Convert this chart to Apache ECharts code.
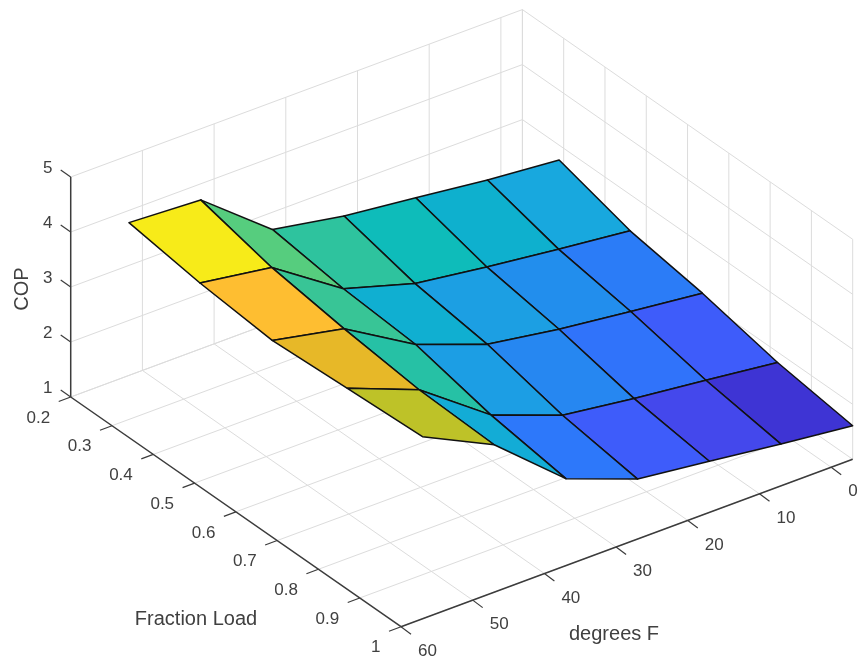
<!DOCTYPE html>
<html>
<head>
<meta charset="utf-8">
<style>html,body{margin:0;padding:0;background:#fff}#main{width:865px;height:661px}</style>
<script src="https://cdn.jsdelivr.net/npm/echarts@6/dist/echarts.min.js"></script>
</head>
<body>
<div id="main"></div>
<script>
// ---- data ----
var degrees = [-3, 7, 17, 27, 37, 47, 57];
var loads = [0.289, 0.461, 0.636, 0.818, 1];
var copLoad1 = [2.73, 2.85, 3.01, 3.16, 3.40, 4.42, 4.49];
var copLoad2 = [2.34, 2.49, 2.65, 2.83, 3.22, 4.09, 4.29];
var copLoad3 = [2.12, 2.27, 2.43, 2.64, 3.12, 3.89, 4.16];
var copLoad4 = [1.81, 1.97, 2.12, 2.30, 2.79, 3.73, 4.24];
var copLoad5 = [1.61, 1.76, 1.93, 2.09, 2.58, 3.68, 4.31];
var degreeTicks = [0, 10, 20, 30, 40, 50, 60];
var loadTicks = [0.2, 0.3, 0.4, 0.5, 0.6, 0.7, 0.8, 0.9, 1];
var copTicks = [1, 2, 3, 4, 5];
var loadTickLabels = ['0.2', '0.3', '0.4', '0.5', '0.6', '0.7', '0.8', '0.9', '1'];
var degreesName = 'degrees F';
var loadName = 'Fraction Load';
var copName = 'COP';

// ---- parula-like colour map ----
var cmapStops = [0, 0.07, 0.125, 0.177, 0.24, 0.3, 0.39, 0.43, 0.486, 0.538, 0.625, 0.736, 0.79, 0.865, 1];
var cmapColors = [
  [62, 38, 168], [62, 52, 212], [68, 72, 236], [62, 92, 250], [45, 120, 250], [35, 140, 238], [24, 168, 222],
  [14, 176, 206], [14, 188, 186], [46, 195, 158], [88, 205, 125], [190, 194, 40],
  [230, 184, 40], [255, 190, 50], [245, 245, 20]
];

var copRows = [copLoad1, copLoad2, copLoad3, copLoad4, copLoad5];
var allCop = copRows.reduce(function (a, r) { return a.concat(r); }, []);
var copMin = Math.min.apply(null, allCop), copMax = Math.max.apply(null, allCop);
var lm = echarts.number.linearMap;

function colorOf(v) {
  var t = lm(v, [copMin, copMax], [0, 1], true), i = 0;
  while (i < cmapStops.length - 2 && t > cmapStops[i + 1]) i++;
  var f = (t - cmapStops[i]) / (cmapStops[i + 1] - cmapStops[i]);
  var a = cmapColors[i], b = cmapColors[i + 1];
  return 'rgb(' + [0, 1, 2].map(function (k) { return Math.round(a[k] + (b[k] - a[k]) * f); }).join(',') + ')';
}

// ---- 3D box → screen scales ----
var origin = [401, 626.7];
var degMax = 60, degMin = -3, loadMin = 0.2, loadMax = 1, copLo = 1, copHi = 5;
var degRange = [degMax, degMin], loadRange = [loadMax, loadMin], copRange = [copLo, copHi];
function project(deg, load, cop) {
  return [
    origin[0] + lm(deg, degRange, [0, 451.7]) + lm(load, loadRange, [0, -330.3]),
    origin[1] + lm(deg, degRange, [0, -167.4]) + lm(load, loadRange, [0, -229.7]) + lm(cop, copRange, [0, -220])
  ];
}

var GRID = '#dcdcdc', AXIS = '#3c3c3c', TEXT = '#404040', FONT = '"Liberation Sans", Arial, sans-serif';
var LABEL_SIZE = 17, NAME_SIZE = 20;

function seg(a, b, color, w) {
  return { type: 'line', shape: { x1: a[0], y1: a[1], x2: b[0], y2: b[1] }, style: { stroke: color, lineWidth: w, fill: null } };
}
function txt(s, x, y, align, size) {
  return { type: 'text', x: x, y: y, style: { text: s, x: 0, y: 0, fill: TEXT, fontSize: size, fontFamily: FONT, align: align, verticalAlign: 'middle' } };
}

// grid lines on the floor and the two back walls
var gridItems = [];
degreeTicks.forEach(function (d) {
  gridItems.push([d, loadMax, copLo, d, loadMin, copLo]);
  gridItems.push([d, loadMin, copLo, d, loadMin, copHi]);
});
loadTicks.forEach(function (l) {
  gridItems.push([degMax, l, copLo, degMin, l, copLo]);
  gridItems.push([degMin, l, copLo, degMin, l, copHi]);
});
copTicks.forEach(function (c) {
  gridItems.push([degMax, loadMin, c, degMin, loadMin, c]);
  gridItems.push([degMin, loadMin, c, degMin, loadMax, c]);
});
gridItems.push([degMin, loadMin, copLo, degMin, loadMin, copHi]);

// surface cells, far to near
var cells = [];
for (var r = 0; r < loads.length - 1; r++) {
  for (var c = 0; c < degrees.length - 1; c++) cells.push([r, c]);
}

var option = {
  backgroundColor: '#ffffff',
  animation: false,
  series: [
    {
      type: 'custom', coordinateSystem: 'none', silent: true, z: 1, data: gridItems,
      renderItem: function (p, api) {
        var g = gridItems[p.dataIndex];
        return seg(project(g[0], g[1], g[2]), project(g[3], g[4], g[5]), GRID, 1);
      }
    },
    {
      type: 'custom', coordinateSystem: 'none', silent: true, z: 2, data: [0],
      renderItem: function () {
        var ch = [];
        ch.push(seg(project(degMax, loadMin, copLo), project(degMax, loadMin, copHi), AXIS, 1.5));
        ch.push(seg(project(degMax, loadMin, copLo), project(degMax, loadMax, copLo), AXIS, 1.5));
        ch.push(seg(project(degMax, loadMax, copLo), project(degMin, loadMax, copLo), AXIS, 1.5));
        copTicks.forEach(function (v) {
          var q = project(degMax, loadMin, v);
          ch.push(seg(q, [q[0] - 10, q[1] - 7], AXIS, 1.2));
          ch.push(txt(String(v), q[0] - 23, q[1] - 9, 'center', LABEL_SIZE));
        });
        loadTicks.forEach(function (v, i) {
          var q = project(degMax, v, copLo);
          ch.push(seg(q, [q[0] - 12, q[1] + 4.5], AXIS, 1.2));
          ch.push(txt(loadTickLabels[i], q[0] - 20.5, q[1] + 21, 'right', LABEL_SIZE));
        });
        degreeTicks.forEach(function (v) {
          var q = project(v, loadMax, copLo);
          ch.push(seg(q, [q[0] + 10, q[1] + 7.5], AXIS, 1.2));
          ch.push(txt(String(v), q[0] + 17, q[1] + 24.5, 'left', LABEL_SIZE));
        });
        ch.push(txt(loadName, 196, 619, 'center', NAME_SIZE));
        ch.push(txt(degreesName, 614, 634, 'center', NAME_SIZE));
        var cop = txt(copName, 22, 289, 'center', NAME_SIZE);
        cop.rotation = Math.PI / 2;
        ch.push(cop);
        return { type: 'group', children: ch };
      }
    },
    {
      type: 'custom', coordinateSystem: 'none', silent: true, z: 3, data: cells,
      renderItem: function (p, api) {
        var rc = cells[p.dataIndex], r = rc[0], c = rc[1];
        return {
          type: 'polygon',
          shape: {
            points: [
              project(degrees[c], loads[r], copRows[r][c]),
              project(degrees[c + 1], loads[r], copRows[r][c + 1]),
              project(degrees[c + 1], loads[r + 1], copRows[r + 1][c + 1]),
              project(degrees[c], loads[r + 1], copRows[r + 1][c])
            ]
          },
          style: { fill: colorOf(copRows[r][c]), stroke: '#111111', lineWidth: 1.5, lineJoin: 'round' }
        };
      }
    }
  ]
};
echarts.init(document.getElementById('main')).setOption(option);
</script>
</body>
</html>
